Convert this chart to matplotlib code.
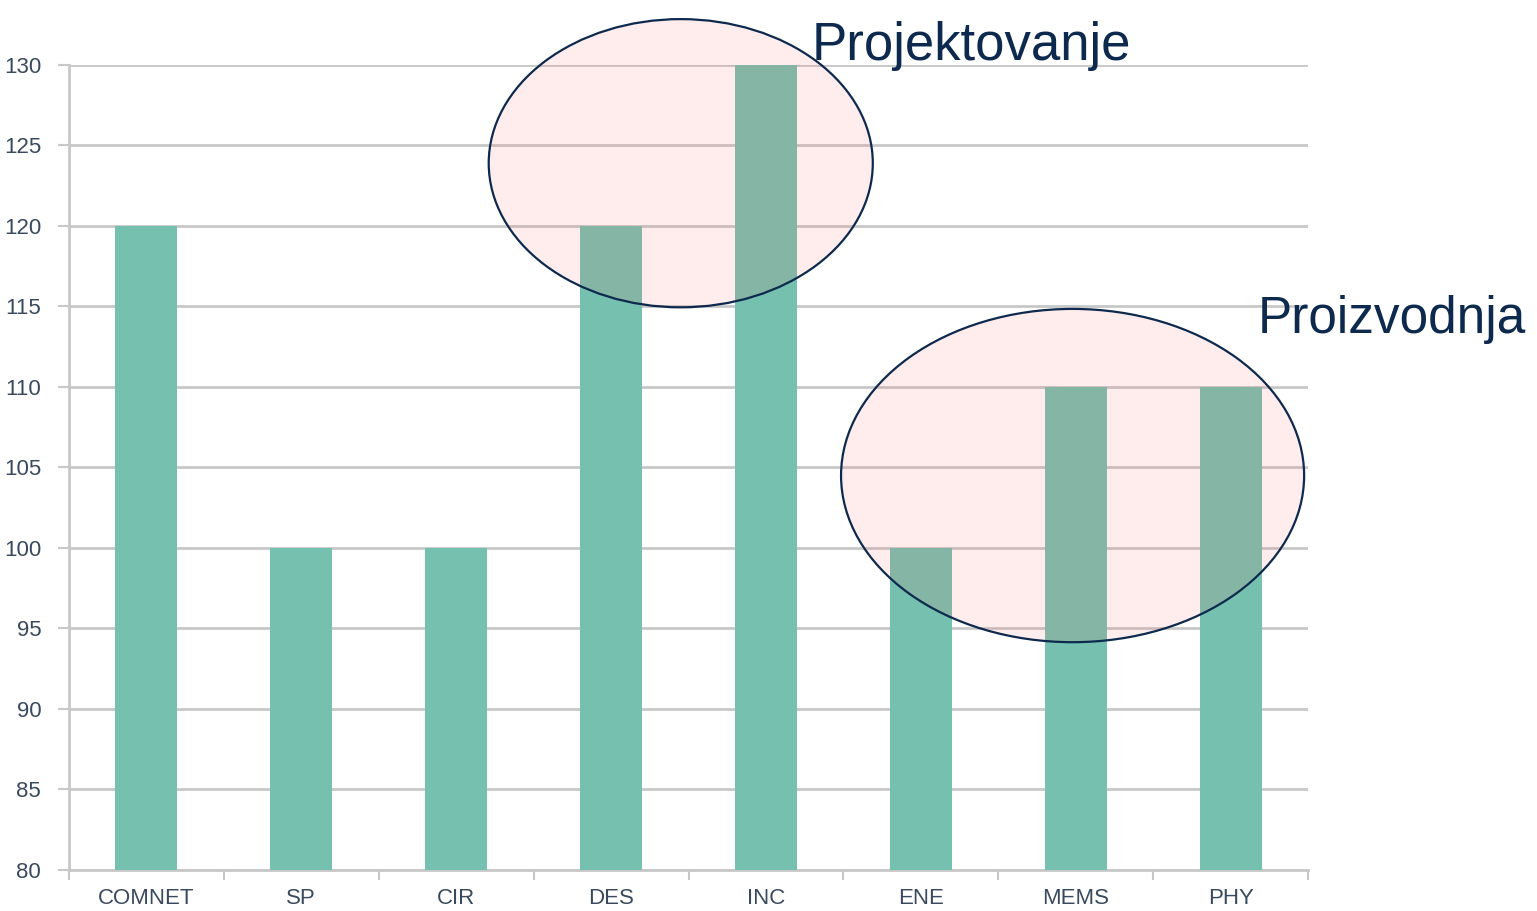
import matplotlib.pyplot as plt
from matplotlib.patches import Ellipse
from matplotlib.ticker import FixedLocator

# data
categories = ["COMNET", "SP", "CIR", "DES", "INC", "ENE", "MEMS", "PHY"]
values = [120, 100, 100, 120, 130, 100, 110, 110]
y_ticks = [80, 85, 90, 95, 100, 105, 110, 115, 120, 125, 130]

BAR = "#75C0AE"
NAVY = "#0D2A4E"
TICK_TXT = "#3A4A5E"
GRID = "#C8C8C8"

plt.rcParams["font.family"] = ["Liberation Sans Narrow", "Liberation Sans", "DejaVu Sans"]

fig = plt.figure(figsize=(15.37, 9.11), dpi=100)
ax = fig.add_axes([69 / 1537, 1 - 870 / 911, (1308 - 69) / 1537, 805 / 911])

x = list(range(len(categories)))
ax.bar(x, values, width=0.4, color=BAR, zorder=3)

ax.set_xlim(-0.5, len(categories) - 0.5)
ax.set_ylim(y_ticks[0], y_ticks[-1])
ax.set_yticks(y_ticks)
ax.set_xticks(x)
ax.set_xticklabels(categories)
ax.xaxis.set_minor_locator(FixedLocator([i - 0.5 for i in range(len(categories) + 1)]))

ax.grid(axis="y", color=GRID, linewidth=2, zorder=1)
ax.tick_params(axis="x", which="major", length=0, pad=13, labelsize=16, labelcolor=TICK_TXT)
ax.tick_params(axis="x", which="minor", length=7, width=1.5, color=GRID)
ax.tick_params(axis="y", length=8, width=1.5, color=GRID, pad=12, labelsize=16,
               labelcolor=TICK_TXT)

for side in ["top", "right"]:
    ax.spines[side].set_visible(False)
for side in ["left", "bottom"]:
    ax.spines[side].set_color(GRID)
    ax.spines[side].set_linewidth(2)

# highlight ellipses
ell_kw = dict(facecolor=(1.0, 0.4, 0.4, 0.12), edgecolor=NAVY, linewidth=1.6,
              zorder=5, clip_on=False)
ax.add_patch(Ellipse((3.45, 123.9), 2.48, 17.9, **ell_kw))
ax.add_patch(Ellipse((5.98, 104.5), 2.99, 20.7, **ell_kw))

fig.text(812 / 1537, 1 - 60 / 911, "Projektovanje", fontsize=38, color=NAVY,
         ha="left", va="baseline")
fig.text(1258 / 1537, 1 - 333 / 911, "Proizvodnja", fontsize=37, color=NAVY,
         ha="left", va="baseline")

fig.savefig("out.png", dpi=100)
